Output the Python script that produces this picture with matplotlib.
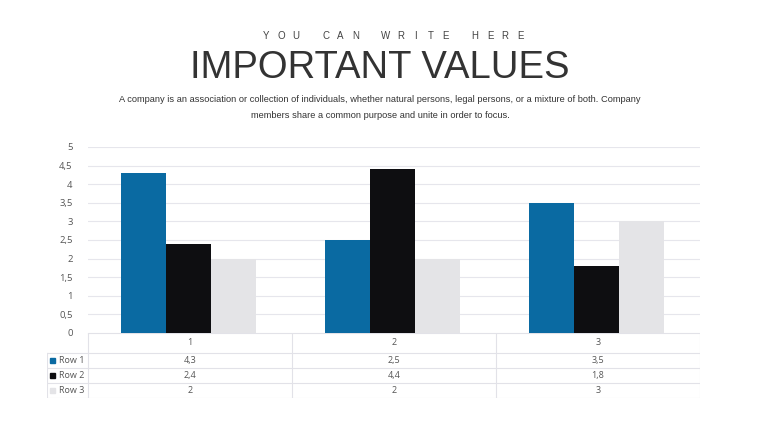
import matplotlib
matplotlib.use("Agg")
import matplotlib.pyplot as plt
import numpy as np
from matplotlib.patches import Rectangle

categories = ["1", "2", "3"]
series_names = ["Row 1", "Row 2", "Row 3"]
row1 = [4.3, 2.5, 3.5]
row2 = [2.4, 4.4, 1.8]
row3 = [2, 2, 3]
yticks = [0, 0.5, 1, 1.5, 2, 2.5, 3, 3.5, 4, 4.5, 5]

colors = ["#0a6aa2", "#0e0e11", "#e4e4e7"]
series = [row1, row2, row3]

W, H = 760, 428
fig = plt.figure(figsize=(W / 100, H / 100), dpi=100)
fig.patch.set_facecolor("white")

def fx(px):
    return px / W

def fy(py):
    return 1 - py / H

fam = ["Liberation Sans", "DejaVu Sans"]

# Letter-spaced kicker
kicker = "YOU CAN WRITE HERE"
k0, k1 = 266, 520
pitch = (k1 - k0) / (len(kicker) - 1)
for i, ch in enumerate(kicker):
    if ch != " ":
        fig.text(fx(k0 + i * pitch), fy(36), ch, ha="center", va="center", fontsize=7,
                 color="#444444", family=fam)

fig.text(0.5, fy(68), "IMPORTANT VALUES", ha="center", va="center", fontsize=27.5,
         color="#333333", family=fam)
fig.text(0.5, fy(100), "A company is an association or collection of individuals, whether natural persons, legal persons, or a mixture of both. Company",
         ha="center", va="center", fontsize=6.7, color="#333333", family=fam)
fig.text(0.5, fy(116), "members share a common purpose and unite in order to focus.",
         ha="center", va="center", fontsize=6.7, color="#333333", family=fam)

# Main axes
left, right, top, bottom = 88, 700, 147, 333
ax = fig.add_axes([fx(left), fy(bottom), fx(right - left), (bottom - top) / H])
x = np.arange(len(categories)) + 0.5 - 1.5 / 204
bw = 45 / 204
for i, (vals, c) in enumerate(zip(series, colors)):
    ax.bar(x + (i - 1) * bw, vals, width=bw, color=c, edgecolor="none", zorder=3)
ax.set_xlim(0, 3)
ax.set_ylim(0, 5)
ax.set_yticks(yticks)
ax.set_yticklabels([("%g" % t).replace(".", ",") for t in yticks], fontsize=6.8,
                   color="#555555", family=["Open Sans", "DejaVu Sans"])
ax.tick_params(axis="y", length=0, pad=11)
ax.set_xticks([])
ax.grid(axis="y", color="#e6e6ec", linewidth=0.8, zorder=0)
for s in ax.spines.values():
    s.set_visible(False)
ax.set_facecolor("none")

# Table axes
tb_top, tb_bot = 333, 398
tleft = 47
tax = fig.add_axes([fx(tleft), fy(tb_bot), fx(right - tleft), (tb_bot - tb_top) / H])
x0 = -(left - tleft) / 204
tax.set_xlim(x0, 3)
tax.set_ylim(tb_bot, tb_top)
tax.axis("off")
lc = "#e2e2e8"
lw = 0.8
row_y = [333, 353, 368, 383, 398]
tax.plot([0, 3], [333, 333], color=lc, lw=lw)
for yy in row_y[1:]:
    tax.plot([x0, 3], [yy, yy], color=lc, lw=lw)
for xx in [0, 1, 2, 3]:
    tax.plot([xx, xx], [333, 398], color=lc, lw=lw)
tax.plot([x0, x0], [353, 398], color=lc, lw=lw)
fs = 6.5
tc = "#555555"
tfam = ["Open Sans", "DejaVu Sans"]
for j, cat in enumerate(categories):
    tax.text(j + 0.5, (row_y[0] + row_y[1]) / 2, cat, ha="center", va="center",
             fontsize=fs, color=tc, family=tfam)
for i, (name, vals, c) in enumerate(zip(series_names, series, colors)):
    yc = (row_y[i + 1] + row_y[i + 2]) / 2
    sq = 5 / 204
    tax.add_patch(Rectangle((x0 + 3 / 204, yc - 2.5), sq, 5, color=c, clip_on=False))
    tax.text(x0 + 12 / 204, yc, name, ha="left", va="center", fontsize=fs, color=tc, family=tfam)
    for j, v in enumerate(vals):
        tax.text(j + 0.5, yc, ("%g" % v).replace(".", ","), ha="center", va="center",
                 fontsize=fs, color=tc, family=tfam)

fig.savefig("out.png", dpi=100, facecolor="white")
